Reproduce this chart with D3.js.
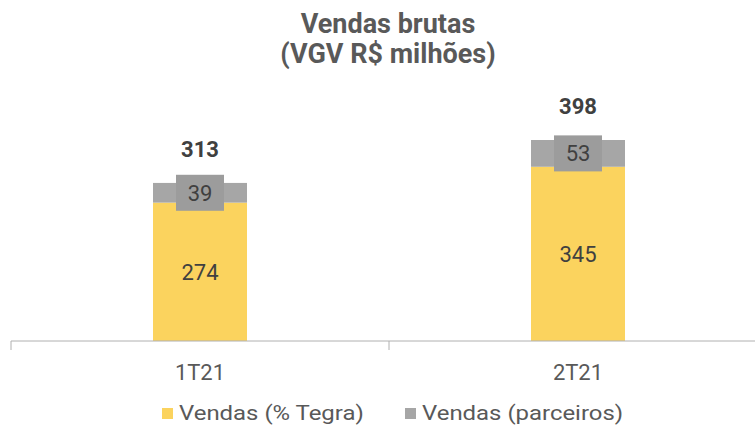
<!DOCTYPE html>
<html>
<head>
<meta charset="utf-8">
<script src="https://cdn.jsdelivr.net/npm/d3@7"></script>
<style>
  body { margin: 0; background: #fff; }
  svg { font-family: Roboto, "Noto Sans", sans-serif; }
</style>
</head>
<body>
<svg id="chart"></svg>
<script>
var width = 755,
    height = 426;

// Data
var categories = ['1T21', '2T21'];
var tegra = [274, 345];
var parceiros = [39, 53];
var totals = [313, 398];
var seriesNames = ['Vendas (% Tegra)', 'Vendas (parceiros)'];
var colors = ['#fbd35e', '#a6a6a6'];

var svg = d3.select('#chart')
  .attr('width', width)
  .attr('height', height);

var x = d3.scaleBand()
  .domain(categories)
  .range([11, 767]);

var y = d3.scaleLinear()
  .domain([0, 450])
  .range([341, 341 - 450 * 0.505]);

var barW = 94;

// Title
svg.append('text')
  .attr('x', 388).attr('y', 33)
  .attr('text-anchor', 'middle')
  .style('font-size', '27px').style('font-weight', 'bold').style('fill', '#595959')
  .text('Vendas brutas');
svg.append('text')
  .attr('x', 388).attr('y', 63)
  .attr('text-anchor', 'middle')
  .style('font-size', '27px').style('font-weight', 'bold').style('fill', '#595959')
  .text('(VGV R$ milhões)');

var g = svg.append('g');

categories.forEach(function(c, i) {
  var cx = x(c) + x.bandwidth() / 2;
  // Tegra
  g.append('rect')
    .attr('x', cx - barW / 2).attr('width', barW)
    .attr('y', y(tegra[i])).attr('height', y(0) - y(tegra[i]))
    .attr('fill', colors[0]);
  // parceiros
  g.append('rect')
    .attr('x', cx - barW / 2).attr('width', barW)
    .attr('y', y(tegra[i] + parceiros[i])).attr('height', y(tegra[i]) - y(tegra[i] + parceiros[i]))
    .attr('fill', colors[1]);

  // label box for parceiros
  var mid = (y(tegra[i]) + y(tegra[i] + parceiros[i])) / 2;
  g.append('rect')
    .attr('x', cx - 24).attr('width', 48)
    .attr('y', mid - 18).attr('height', 36)
    .attr('fill', '#9c9c9c');
  g.append('text')
    .attr('x', cx).attr('y', mid + 8)
    .attr('text-anchor', 'middle')
    .style('font-size', '22px').style('fill', '#404040')
    .text(parceiros[i]);

  // tegra label
  g.append('text')
    .attr('x', cx).attr('y', (y(0) + y(tegra[i])) / 2 + 8)
    .attr('text-anchor', 'middle')
    .style('font-size', '22px').style('fill', '#404040')
    .text(tegra[i]);

  // totals
  g.append('text')
    .attr('x', cx).attr('y', y(totals[i]) - 26)
    .attr('text-anchor', 'middle')
    .style('font-size', '22px').style('font-weight', 'bold').style('fill', '#404040')
    .text(totals[i]);
});

// Axis
var ax = svg.append('g').attr('transform', 'translate(0,341)');
ax.append('line')
  .attr('x1', 11).attr('x2', 755)
  .attr('stroke', '#b0b0b0').attr('stroke-width', 1);
[11, 389].forEach(function(tx) {
  ax.append('line')
    .attr('x1', tx).attr('x2', tx).attr('y1', 0).attr('y2', 9)
    .attr('stroke', '#b0b0b0');
});
ax.selectAll('text.cat')
  .data(categories)
  .join('text')
  .attr('class', 'cat')
  .attr('x', function(d) { return x(d) + x.bandwidth() / 2; })
  .attr('y', 39)
  .attr('text-anchor', 'middle')
  .style('font-size', '22px').style('fill', '#595959')
  .text(function(d) { return d; });

// Legend
var legX = [162, 405];
var leg = svg.append('g');
seriesNames.forEach(function(s, i) {
  leg.append('rect')
    .attr('x', legX[i]).attr('y', 408)
    .attr('width', 11).attr('height', 11)
    .attr('fill', colors[i]);
  leg.append('text')
    .attr('transform', 'translate(' + (legX[i] + 17) + ',420) scale(1.14,1)')
    .style('font-size', '21px').style('fill', '#595959')
    .text(s);
});
</script>
</body>
</html>
